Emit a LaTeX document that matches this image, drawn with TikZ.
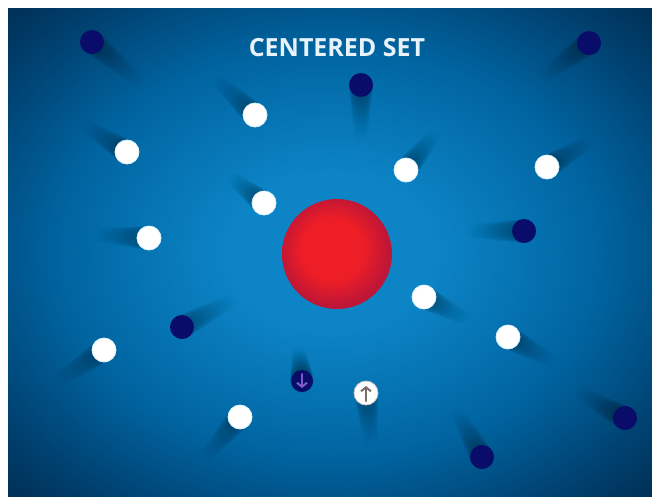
\documentclass[tikz,border=0pt]{standalone}
\usepackage{fontspec}
\setsansfont{Open Sans}
\usetikzlibrary{calc,arrows.meta,backgrounds}
\definecolor{SeaIn}{RGB}{12,132,198}
\definecolor{SeaMid}{RGB}{0,100,160}
\definecolor{SeaEdge}{RGB}{0,62,108}
\definecolor{SeaOut}{RGB}{0,30,56}
\definecolor{Ink}{RGB}{10,12,105}
\definecolor{RedIn}{RGB}{238,30,38}
\definecolor{RedOut}{RGB}{190,22,55}
\definecolor{Title}{RGB}{232,242,250}
\definecolor{Plum}{RGB}{125,90,205}
\definecolor{Ash}{RGB}{125,110,110}
\pgfdeclareradialshading{sea}{\pgfpoint{0bp}{0bp}}{color(0bp)=(SeaIn); color(8bp)=(SeaIn); color(21bp)=(SeaMid); color(31bp)=(SeaEdge); color(41bp)=(SeaOut); color(50bp)=(SeaOut)}
\pgfdeclareradialshading{redball}{\pgfpoint{-3bp}{3bp}}{color(0bp)=(RedIn); color(14bp)=(RedIn); color(25bp)=(RedOut); color(50bp)=(RedOut)}
\tikzset{
  ball/.style={circle,minimum size=24pt,inner sep=0pt},
  wball/.style={ball,fill=white,draw=white!85!cyan,line width=0.8pt},
  dball/.style={ball,fill=Ink},
  sign/.style={line width=2pt,line cap=round,-{Straight Barb[length=4pt,width=10pt]}},
}
% soft trail behind a ball: #1 ball, #2 offset of the trail end
\newcommand{\balltail}[2]{%
  \foreach \t [evaluate=\t as \op using 0.05*(1-\t)] in {0,0.05,...,1}
    \fill[black,opacity=\op] ($(#1)!\t!($(#1)+(#2)$)$) circle ({12*(1-0.45*\t)*1pt});}

\begin{document}
\begin{tikzpicture}[x=1pt,y=-1pt]
  \useasboundingbox (0,0) rectangle (652,496);

  % red centre
  \node[circle,minimum size=110pt,inner sep=0pt,shading=redball] (core) at (337,254) {};

  % dark balls
  \node[dball] (d1) at (92,42) {};
  \node[dball] (d2) at (589,43) {};
  \node[dball] (d3) at (361,85) {};
  \node[dball] (d4) at (524,231) {};
  \node[dball] (d5) at (182,327) {};
  \node[dball,minimum size=22pt] (d6) at (302,381) {};
  \node[dball] (d7) at (625,418) {};
  \node[dball] (d8) at (482,457) {};

  % white balls
  \node[wball] (w1) at (255,115) {};
  \node[wball] (w2) at (127,152) {};
  \node[wball] (w3) at (406,170) {};
  \node[wball] (w4) at (547,167) {};
  \node[wball] (w5) at (264,203) {};
  \node[wball] (w6) at (149,238) {};
  \node[wball] (w7) at (424,297) {};
  \node[wball] (w8) at (508,337) {};
  \node[wball] (w9) at (104,350) {};
  \node[wball] (w10) at (240,417) {};
  \node[wball,draw=Ash!40] (w11) at (366,393) {};

  \draw[sign,Plum] ($(d6)+(0,-7)$) -- ($(d6)+(0,7)$);
  \draw[sign,Ash] ($(w11)+(0,8)$) -- ($(w11)+(0,-7)$);

  \node[font=\sffamily\bfseries\fontsize{25}{30}\selectfont,text=Title] (title) at (337,48) {CENTERED SET};

  \begin{scope}[on background layer]
    \fill[white] (0,0) rectangle (652,496);
    \shade[shading=sea] (8,8) rectangle (652,496);
    \balltail{d1}{48,40}
    \balltail{d2}{-45,33}
    \balltail{d3}{0,52}
    \balltail{d4}{-55,0}
    \balltail{d5}{52,-28}
    \balltail{d6}{-3,-30}
    \balltail{d7}{-45,-25}
    \balltail{d8}{-25,-45}
    \balltail{w1}{-38,-35}
    \balltail{w2}{-40,-25}
    \balltail{w3}{28,-35}
    \balltail{w4}{42,-25}
    \balltail{w5}{-32,-25}
    \balltail{w6}{-52,-3}
    \balltail{w7}{42,22}
    \balltail{w8}{45,25}
    \balltail{w9}{-45,30}
    \balltail{w10}{-35,40}
    \balltail{w11}{5,50}
  \end{scope}
\end{tikzpicture}
\end{document}
